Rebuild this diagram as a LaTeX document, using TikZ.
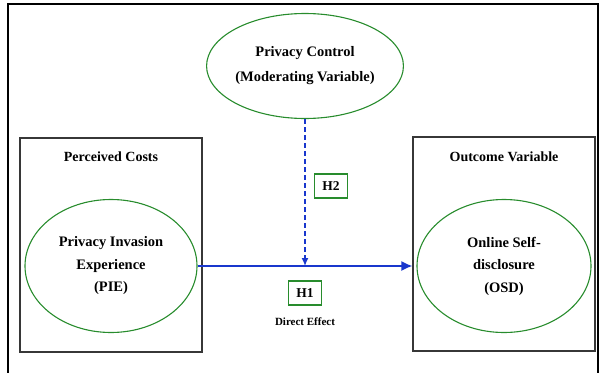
\documentclass[tikz,border=0pt]{standalone}
\usepackage{fontspec}
\setmainfont{Liberation Serif}
\usepackage{tikz}
\usetikzlibrary{arrows.meta,positioning,shapes.geometric}

\definecolor{ovalgreen}{RGB}{40,140,45}
\definecolor{pathblue}{RGB}{25,55,205}
\definecolor{boxgray}{RGB}{55,55,55}

\begin{document}
\begin{tikzpicture}[x=1pt,y=-1pt,
            construct/.style={draw=ovalgreen,line width=1.1pt,ellipse,align=center,inner sep=0pt,
              font=\fontsize{14.5}{22.5}\selectfont\bfseries},
            group/.style={draw=boxgray,line width=1.1pt,rectangle,minimum width=182,minimum height=214},
            grouplab/.style={font=\fontsize{14}{16}\selectfont\bfseries},
            hyp/.style={draw=ovalgreen,line width=1.1pt,rectangle,minimum width=33,minimum height=24,
              inner sep=0pt,font=\fontsize{13.5}{15}\selectfont\bfseries},
            effect/.style={draw=pathblue,line width=1.6pt,>={Latex[length=11pt,width=10pt]}},
            moderate/.style={effect,dashed,dash pattern=on 5pt off 3pt,line width=1.4pt,
              >={Latex[length=8pt,width=7pt]}}
          ]
          \useasboundingbox (0,0) rectangle (599,372);
          \draw[line width=1.8pt] (8,380) -- (8,4) -- (598,4) -- (598,380);

          %groups
          \node[group] (costs) at (111,245) {};
          \node[group] (outcome) at (504,244) {};
          \node[grouplab] at (111,157) {Perceived Costs};
          \node[grouplab] at (504,157) {Outcome Variable};

          %constructs
          \node[construct,minimum width=196,minimum height=105] (pc) at (305,66)
            {Privacy Control\\[2.5pt](Moderating Variable)};
          \node[construct,minimum width=172,minimum height=133] (pie) at (111,266)
            {Privacy Invasion\\Experience\\(PIE)};
          \node[construct,minimum width=174,minimum height=133] (osd) at (504,266)
            {Online Self-\\disclosure\\(OSD)};

          %hypotheses
          \node[hyp] (h2) at (331,186) {H2};
          \node[hyp] (h1) at (305,293) {H1};
          \node[below=9pt of h1,font=\fontsize{11}{13}\selectfont\bfseries] (direct) {Direct Effect};

          %paths
          \coordinate (meet) at (pc.south |- pie.east);
          \draw[effect,->] (pie.east) -- (pie.east -| outcome.west);
          \draw[moderate,->] (pc.south) -- (meet);
      \end{tikzpicture}
\end{document}
